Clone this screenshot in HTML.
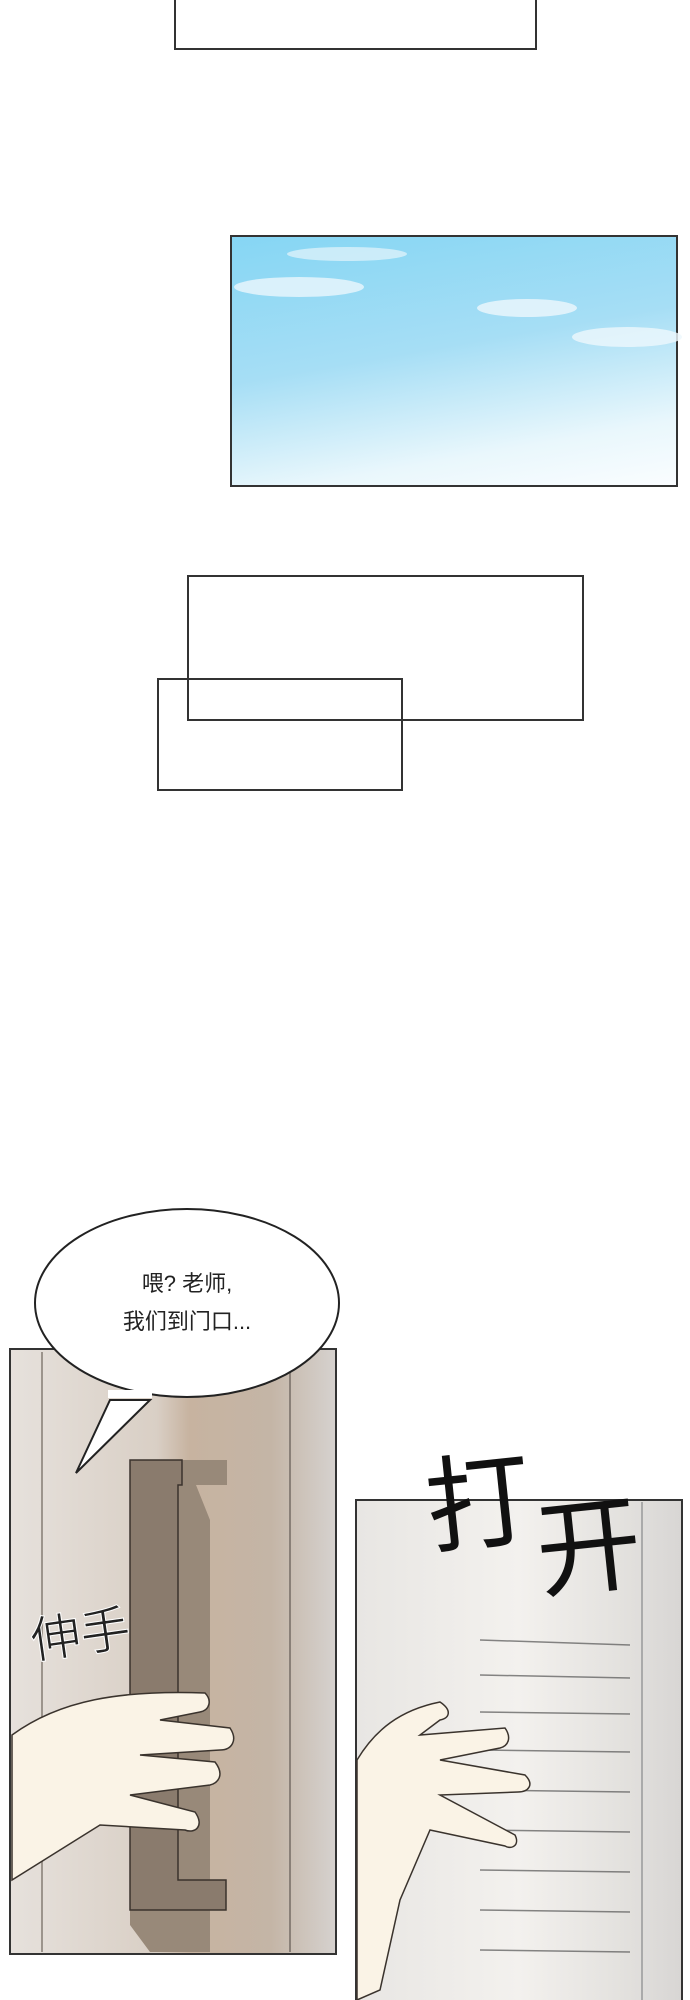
<!DOCTYPE html>
<html><head><meta charset="utf-8"><style>
body{margin:0;width:690px;height:2000px;background:#fff;position:relative;overflow:hidden;font-family:"Liberation Sans","Noto Sans CJK SC",sans-serif}
.b{position:absolute;border:2px solid #333;box-sizing:border-box}
</style></head><body>
<div class="b" style="left:174px;top:-5px;width:363px;height:55px"></div>
<div class="b" style="left:230px;top:235px;width:448px;height:252px;background:linear-gradient(170deg,#86d6f4 0%,#a6def5 45%,#e9f7fc 80%,#fafdff 100%)">
<div style="position:absolute;left:2px;top:40px;width:130px;height:20px;background:#e6f5fb;border-radius:50%;opacity:.85"></div>
<div style="position:absolute;left:55px;top:10px;width:120px;height:14px;background:#e6f5fb;border-radius:50%;opacity:.7"></div>
<div style="position:absolute;left:245px;top:62px;width:100px;height:18px;background:#eef8fc;border-radius:50%;opacity:.8"></div>
<div style="position:absolute;left:340px;top:90px;width:110px;height:20px;background:#eef8fc;border-radius:50%;opacity:.8"></div>
</div>
<div class="b" style="left:187px;top:575px;width:397px;height:146px"></div>
<div class="b" style="left:157px;top:678px;width:246px;height:113px"></div>

<svg width="690" height="2000" style="position:absolute;left:0;top:0">
<defs>
<linearGradient id="d1" x1="0" x2="1"><stop offset="0" stop-color="#e6e1dc"/><stop offset=".45" stop-color="#d9cfc5"/><stop offset=".55" stop-color="#c7b3a0"/><stop offset=".8" stop-color="#c4b5a6"/><stop offset="1" stop-color="#d6d2cf"/></linearGradient>
<linearGradient id="d2" x1="0" x2="1"><stop offset="0" stop-color="#e8e6e3"/><stop offset=".5" stop-color="#f3f1ee"/><stop offset=".8" stop-color="#e4e2df"/><stop offset="1" stop-color="#d8d6d4"/></linearGradient>
</defs>
<rect x="10" y="1349" width="326" height="605" fill="url(#d1)" stroke="#333" stroke-width="2"/>
<line x1="42" y1="1352" x2="42" y2="1952" stroke="#9c948c" stroke-width="2"/>
<line x1="290" y1="1352" x2="290" y2="1952" stroke="#8a8078" stroke-width="2"/>
<path d="M130 1460 L227 1460 L227 1485 L196 1485 L210 1520 L210 1952 L150 1952 L130 1925 Z" fill="#988979"/>
<path d="M130 1460 L182 1460 L182 1485 L178 1485 L178 1880 L226 1880 L226 1910 L130 1910 Z" fill="#8a7b6d" stroke="#3a332d" stroke-width="1.5"/>
<path d="M12 1735 C60 1700 120 1690 205 1693 C212 1700 210 1710 200 1712 L160 1720 L230 1728 C238 1740 232 1750 220 1750 L140 1755 L215 1762 C225 1775 218 1783 210 1785 L130 1795 L195 1812 C205 1826 195 1834 185 1830 L100 1825 L12 1880 Z" fill="#faf3e6" stroke="#3a332d" stroke-width="1.5"/>
<rect x="356" y="1500" width="326" height="510" fill="url(#d2)" stroke="#333" stroke-width="2"/>
<line x1="642" y1="1502" x2="642" y2="2000" stroke="#aaa" stroke-width="2"/>
<g stroke="#555" stroke-width="1.5" opacity=".7">
<line x1="480" y1="1640" x2="630" y2="1645"/><line x1="480" y1="1675" x2="630" y2="1678"/><line x1="480" y1="1712" x2="630" y2="1714"/><line x1="480" y1="1750" x2="630" y2="1752"/><line x1="480" y1="1790" x2="630" y2="1792"/><line x1="480" y1="1830" x2="630" y2="1832"/><line x1="480" y1="1870" x2="630" y2="1872"/><line x1="480" y1="1910" x2="630" y2="1912"/><line x1="480" y1="1950" x2="630" y2="1952"/>
</g>
<path d="M357 1760 C375 1730 400 1710 440 1702 C452 1710 450 1718 440 1720 L420 1735 L505 1728 C512 1738 508 1746 500 1748 L440 1760 L525 1775 C535 1785 528 1792 518 1792 L440 1795 L515 1835 C520 1845 512 1850 505 1846 L430 1830 L400 1900 L380 1990 L357 2000 Z" fill="#faf3e6" stroke="#3a332d" stroke-width="1.5"/>
<path d="M76 1473 L150 1400 L110 1400 Z" fill="#fff" stroke="#222" stroke-width="2"/>
<ellipse cx="187" cy="1303" rx="152" ry="94" fill="#fff" stroke="#222" stroke-width="2"/>
<path d="M108 1394 L152 1394" stroke="#fff" stroke-width="8"/>
</svg>
<div style="position:absolute;left:35px;top:1265px;width:304px;text-align:center;font-size:22px;line-height:38px;color:#222">喂? 老师,<br>我们到门口...</div>
<div style="position:absolute;left:30px;top:1595px;font-size:50px;color:#222;transform:rotate(-8deg);font-family:'WenQuanYi Zen Hei',sans-serif;-webkit-text-stroke:1px #fff">伸手</div>
<div style="position:absolute;left:426px;top:1440px;font-size:105px;line-height:120px;color:#111;transform:rotate(-6deg);font-family:'WenQuanYi Zen Hei',sans-serif">打<span style="position:relative;top:55px">开</span></div>
</body></html>
